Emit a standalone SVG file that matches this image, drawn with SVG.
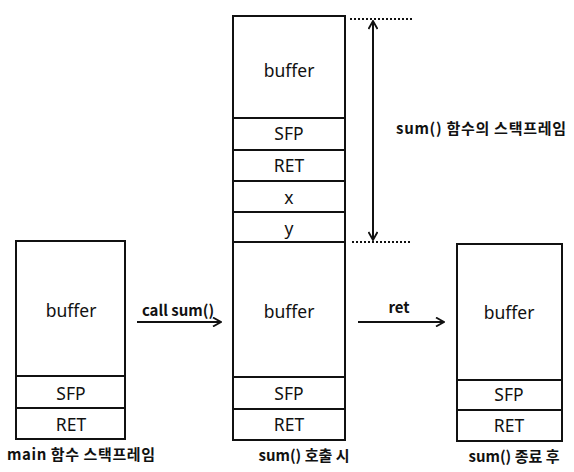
<svg xmlns="http://www.w3.org/2000/svg" width="574" height="472" viewBox="0 0 574 472">
<style>
.box{fill:#fff;stroke:#111;stroke-width:2}
.div{stroke:#111;stroke-width:2}
.t{font-family:"Noto Sans","Noto Sans CJK KR",sans-serif;font-size:17.5px;fill:#111;text-anchor:middle;dominant-baseline:central}
.l{font-family:"Noto Sans CJK KR","Noto Sans",sans-serif;font-size:15px;font-weight:bold;fill:#111;text-anchor:middle;dominant-baseline:central}
.c{stroke:#111;stroke-width:2;fill:none}
.d{stroke:#111;stroke-width:2;stroke-dasharray:2 2;fill:none}
</style>
<defs>
<marker id="ah" viewBox="0 0 10 10" refX="9" refY="5" markerWidth="10" markerHeight="10" markerUnits="userSpaceOnUse" orient="auto-start-reverse">
<polyline points="1,0.5 9,5 1,9.5" fill="none" stroke="#111" stroke-width="1.8"/>
</marker>
</defs>
<rect width="574" height="472" fill="#fff"/>
<g id="main-frame">
<rect class="box" x="16" y="241" width="109" height="198"/>
<line class="div" x1="16" y1="376" x2="125" y2="376"/>
<line class="div" x1="16" y1="408" x2="125" y2="408"/>
<text class="t" x="71" y="310">buffer</text>
<text class="t" x="71" y="393">SFP</text>
<text class="t" x="71" y="424">RET</text>
<text class="l" x="81" y="453" textLength="148" lengthAdjust="spacing">main 함수 스택프레임</text>
</g>
<g id="call-frame">
<rect class="box" x="233" y="16" width="112" height="424"/>
<line class="div" x1="233" y1="118" x2="345" y2="118"/>
<line class="div" x1="233" y1="150" x2="345" y2="150"/>
<line class="div" x1="233" y1="181" x2="345" y2="181"/>
<line class="div" x1="233" y1="212" x2="345" y2="212"/>
<line class="div" x1="233" y1="242" x2="345" y2="242"/>
<line class="div" x1="233" y1="377" x2="345" y2="377"/>
<line class="div" x1="233" y1="409" x2="345" y2="409"/>
<text class="t" x="289" y="70">buffer</text>
<text class="t" x="289" y="133">SFP</text>
<text class="t" x="289" y="165">RET</text>
<text class="t" x="289" y="197">x</text>
<text class="t" x="289" y="228">y</text>
<text class="t" x="289" y="311">buffer</text>
<text class="t" x="289" y="393">SFP</text>
<text class="t" x="289" y="424">RET</text>
<text class="l" x="304" y="454">sum() 호출 시</text>
</g>
<g id="after-frame">
<rect class="box" x="457" y="244" width="105" height="197"/>
<line class="div" x1="457" y1="380" x2="562" y2="380"/>
<line class="div" x1="457" y1="410" x2="562" y2="410"/>
<text class="t" x="509" y="312">buffer</text>
<text class="t" x="509" y="394">SFP</text>
<text class="t" x="509" y="425">RET</text>
<text class="l" x="514" y="455">sum() 종료 후</text>
</g>
<g id="sum-frame-label">
<text class="l" x="481" y="127" textLength="170" lengthAdjust="spacing">sum() 함수의 스택프레임</text>
</g>
<g id="connectors">
<line class="c" x1="137" y1="322" x2="221" y2="322" marker-end="url(#ah)"/>
<text class="l" x="178" y="309">call sum()</text>
<line class="c" x1="358" y1="322" x2="444" y2="322" marker-end="url(#ah)"/>
<text class="l" x="399" y="306">ret</text>
<line class="d" x1="350" y1="19" x2="412" y2="19"/>
<line class="d" x1="352" y1="242" x2="412" y2="242"/>
<line class="c" x1="373" y1="21" x2="373" y2="240" marker-start="url(#ah)" marker-end="url(#ah)"/>
</g>
</svg>
